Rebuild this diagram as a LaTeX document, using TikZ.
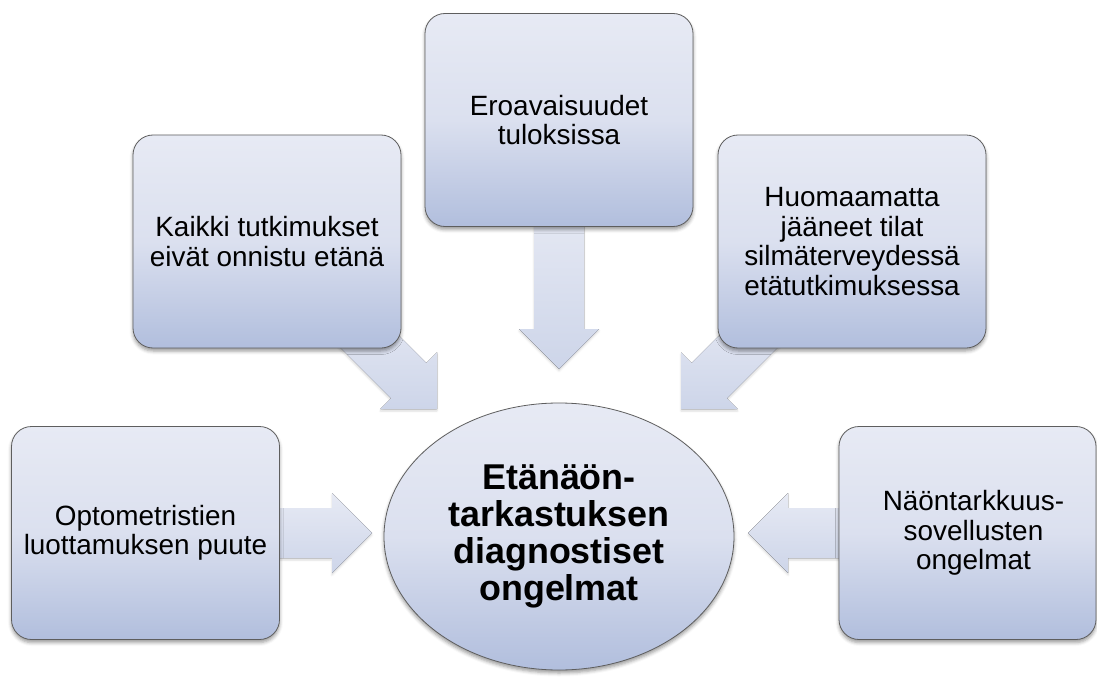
\documentclass[tikz,border=0pt]{standalone}
\usepackage{fontspec}
\setmainfont{Liberation Sans}
\usetikzlibrary{shapes.geometric,shadows.blur,calc}

\definecolor{boxtop}{HTML}{E7EAF4}
\definecolor{boxmid}{HTML}{DBE0EF}
\definecolor{boxbot}{HTML}{B1BEDD}
\definecolor{boxline}{HTML}{5E5E5E}
\definecolor{arrtop}{HTML}{E7EAF4}
\definecolor{arrbot}{HTML}{CDD5E9}

\tikzset{
  softshadow/.style={blur shadow={shadow xshift=0bp, shadow yshift=-3bp,
      shadow blur radius=3.5bp, shadow opacity=40}},
  causebox/.style={rectangle, rounded corners=20bp, draw=boxline, line width=0.8bp,
      top color=boxtop, bottom color=boxbot, middle color=boxmid,
      minimum width=268bp, minimum height=213bp, inner sep=0pt,
      align=center, font=\fontsize{28}{29.5}\selectfont, softshadow},
  hub/.style={ellipse, draw=boxline, line width=0.8bp,
      top color=boxtop, bottom color=boxbot, middle color=boxmid,
      minimum width=350bp, minimum height=267bp, inner sep=0pt,
      align=center, font=\fontsize{36}{37}\selectfont\bfseries, softshadow},
  blockarrowfill/.style={top color=arrtop, bottom color=arrbot, draw=none,
      blur shadow={shadow xshift=0bp, shadow yshift=-2bp,
      shadow blur radius=2bp, shadow opacity=15}},
}

% Block arrow: #1 tip coordinate, (#2,#3) unit direction, #4 total length
\newcommand\blockarrow[4]{%
  \fill[blockarrowfill] (#1)
    -- ++({-40*(#2)-40*(#3)},{-40*(#3)+40*(#2)})
    -- ++({15*(#3)},{-15*(#2)})
    -- ++({-(#4-40)*(#2)},{-(#4-40)*(#3)})
    -- ++({50*(#3)},{-50*(#2)})
    -- ++({(#4-40)*(#2)},{(#4-40)*(#3)})
    -- ++({15*(#3)},{-15*(#2)})
    -- cycle;}

\begin{document}
\begin{tikzpicture}[x=1bp, y=-1bp]
\useasboundingbox (0,0) rectangle (1097,679);

% arrow tips around the hub
\coordinate (tipL)  at (372,533);
\coordinate (tipUL) at (437,409);
\coordinate (tipT)  at (559,369);
\coordinate (tipUR) at (681,409);
\coordinate (tipR)  at (748,533);

% block arrows (drawn first so the boxes cover their tails)
\blockarrow{tipL}{1}{0}{112}
\blockarrow{tipUL}{0.7071}{0.7071}{130}
\blockarrow{tipT}{0}{1}{170}
\blockarrow{tipUR}{-0.7071}{0.7071}{130}
\blockarrow{tipR}{-1}{0}{112}

% cause boxes
\node[causebox] (lbox)  at (145.5,533) {Optometristien\\luottamuksen puute};
\node[causebox] (ulbox) at (267,241.5) {Kaikki tutkimukset\\eivät onnistu etänä};
\node[causebox] (tbox)  at (559,120)   {Eroavaisuudet\\tuloksissa};
\node[causebox] (urbox) at (852,241.5) {Huomaamatta\\jääneet tilat\\silmäterveydessä\\etätutkimuksessa};
\node[causebox, minimum width=257bp] (rbox) at (967.5,533) {};
\node[align=center, font=\fontsize{28}{29.5}\selectfont, inner sep=0pt] (rtext)
  at ($(rbox.center)+(6,0)$) {Näöntarkkuus-\\sovellusten\\ongelmat};

% central hub
\node[hub] (hub) at (559,536.5) {Etänäön-\\tarkastuksen\\diagnostiset\\ongelmat};
\end{tikzpicture}
\end{document}
